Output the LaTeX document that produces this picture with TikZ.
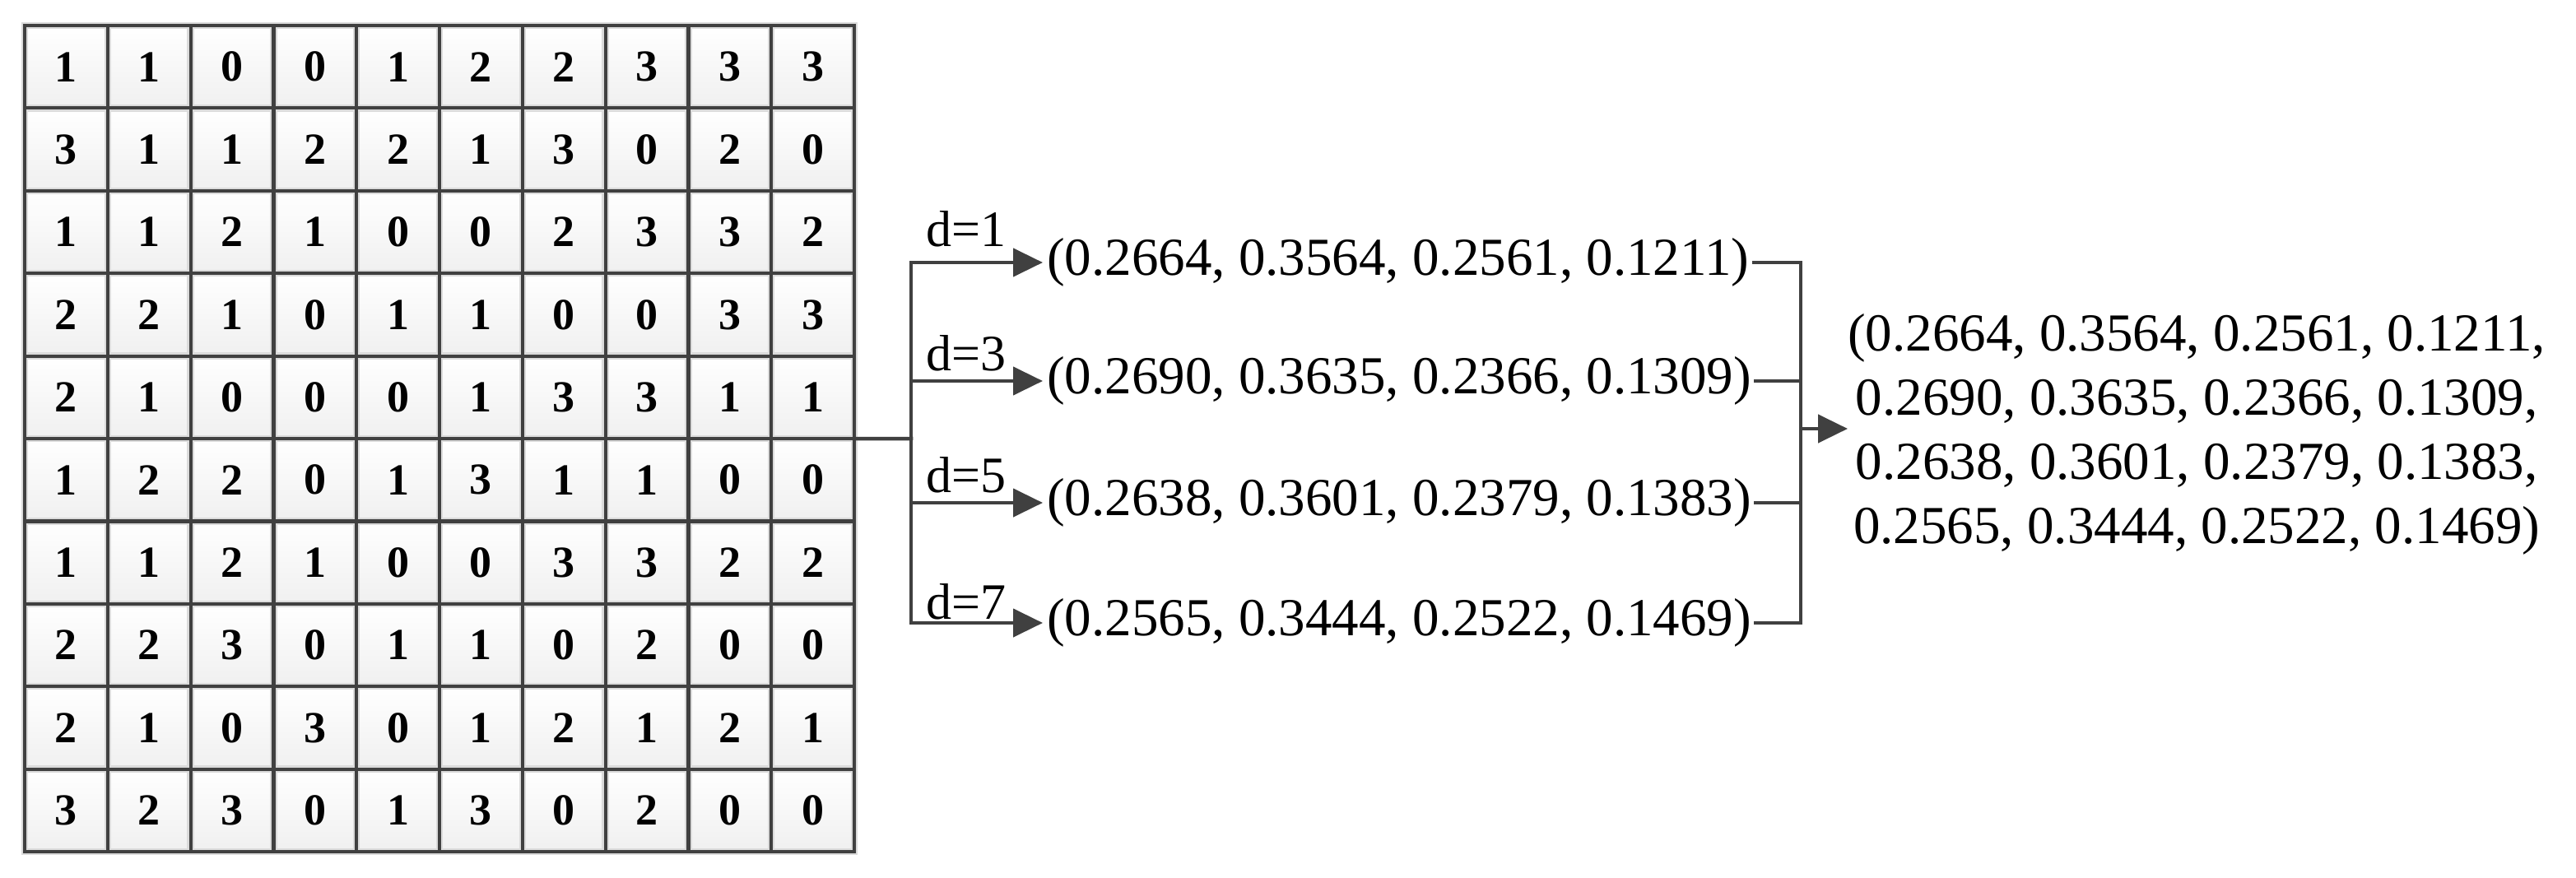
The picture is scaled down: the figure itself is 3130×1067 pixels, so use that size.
\documentclass[tikz,border=0pt]{standalone}
\usepackage{fontspec}
\setmainfont{Liberation Serif}
\usetikzlibrary{arrows.meta}
\definecolor{linecol}{HTML}{404040}
\begin{document}
\begin{tikzpicture}[x=1pt,y=-1pt,
  cell/.style={rectangle, inner sep=0pt, minimum width=100.8pt, minimum height=100.4pt,
    top color=white, bottom color=gray!12, font=\fontsize{54}{60}\selectfont\bfseries},
  halo/.style={draw=gray!28, line width=8pt},
  border/.style={draw=linecol, line width=3.8pt},
  conn/.style={draw=linecol, line width=4.5pt, line cap=rect},
  arr/.style={conn, -{Triangle[length=36pt,width=34pt]}},
  vec/.style={inner xsep=5pt, inner ysep=0pt, anchor=west, font=\fontsize{65}{78}\selectfont},
  dlab/.style={inner sep=0pt, anchor=base west, font=\fontsize{62}{70}\selectfont}]
\useasboundingbox (0,0) rectangle (3130,1067);
\fill[white] (0,0) rectangle (3130,1067);

% grid cells
\foreach \row [count=\r] in {
  {1,1,0,0,1,2,2,3,3,3},
  {3,1,1,2,2,1,3,0,2,0},
  {1,1,2,1,0,0,2,3,3,2},
  {2,2,1,0,1,1,0,0,3,3},
  {2,1,0,0,0,1,3,3,1,1},
  {1,2,2,0,1,3,1,1,0,0},
  {1,1,2,1,0,0,3,3,2,2},
  {2,2,3,0,1,1,0,2,0,0},
  {2,1,0,3,0,1,2,1,2,1},
  {3,2,3,0,1,3,0,2,0,0}} {
  \foreach \v [count=\c] in \row {
    \node[cell] (c-\r-\c) at ({30+100.8*(\c-0.5)},{31+100.4*(\r-0.5)}) {\v};
  }
}
\foreach \r in {1,...,10} {
  \foreach \c in {1,...,10} {
    \draw[halo] (c-\r-\c.north west) rectangle (c-\r-\c.south east);
  }
}
\foreach \r in {1,...,10} {
  \foreach \c in {1,...,10} {
    \draw[border] (c-\r-\c.north west) rectangle (c-\r-\c.south east);
  }
}

% left fork
\coordinate (t0) at (1107,533);
\coordinate (b1) at (1107,319);
\coordinate (b2) at (1107,463);
\coordinate (b3) at (1107,611);
\coordinate (b4) at (1107,757);
\draw[conn] (c-5-10.south east) -- (t0);
\draw[conn] (b1) -- (b4);

% labels
\node[dlab] (l1) at (1125,300) {d=1};
\node[dlab] (l2) at (1125,450) {d=3};
\node[dlab] (l3) at (1125,598) {d=5};
\node[dlab] (l4) at (1125,752) {d=7};

% vectors
\node[vec] (v1) at (1267,319) {(0.2664, 0.3564, 0.2561, 0.1211)};
\node[vec] (v2) at (1267,463) {(0.2690, 0.3635, 0.2366, 0.1309)};
\node[vec] (v3) at (1267,611) {(0.2638, 0.3601, 0.2379, 0.1383)};
\node[vec] (v4) at (1267,757) {(0.2565, 0.3444, 0.2522, 0.1469)};

\draw[arr] (b1) -- (v1.west);
\draw[arr] (b2) -- (v2.west);
\draw[arr] (b3) -- (v3.west);
\draw[arr] (b4) -- (v4.west);

% right bracket
\coordinate (r1) at (2188,319);
\coordinate (r2) at (2188,463);
\coordinate (r3) at (2188,611);
\coordinate (r4) at (2188,757);
\coordinate (rm) at (2188,521);
\draw[conn] (v1.east) -- (r1);
\draw[conn] (v2.east) -- (r2);
\draw[conn] (v3.east) -- (r3);
\draw[conn] (v4.east) -- (r4);
\draw[conn] (r1) -- (r4);

\node[inner sep=0pt, anchor=west, align=center, font=\fontsize{65}{78}\selectfont] (out) at (2245,528)
  {(0.2664, 0.3564, 0.2561, 0.1211,\\
   0.2690, 0.3635, 0.2366, 0.1309,\\
   0.2638, 0.3601, 0.2379, 0.1383,\\
   0.2565, 0.3444, 0.2522, 0.1469)};
\draw[arr] (rm) -- (rm -| out.west);
\end{tikzpicture}
\end{document}
